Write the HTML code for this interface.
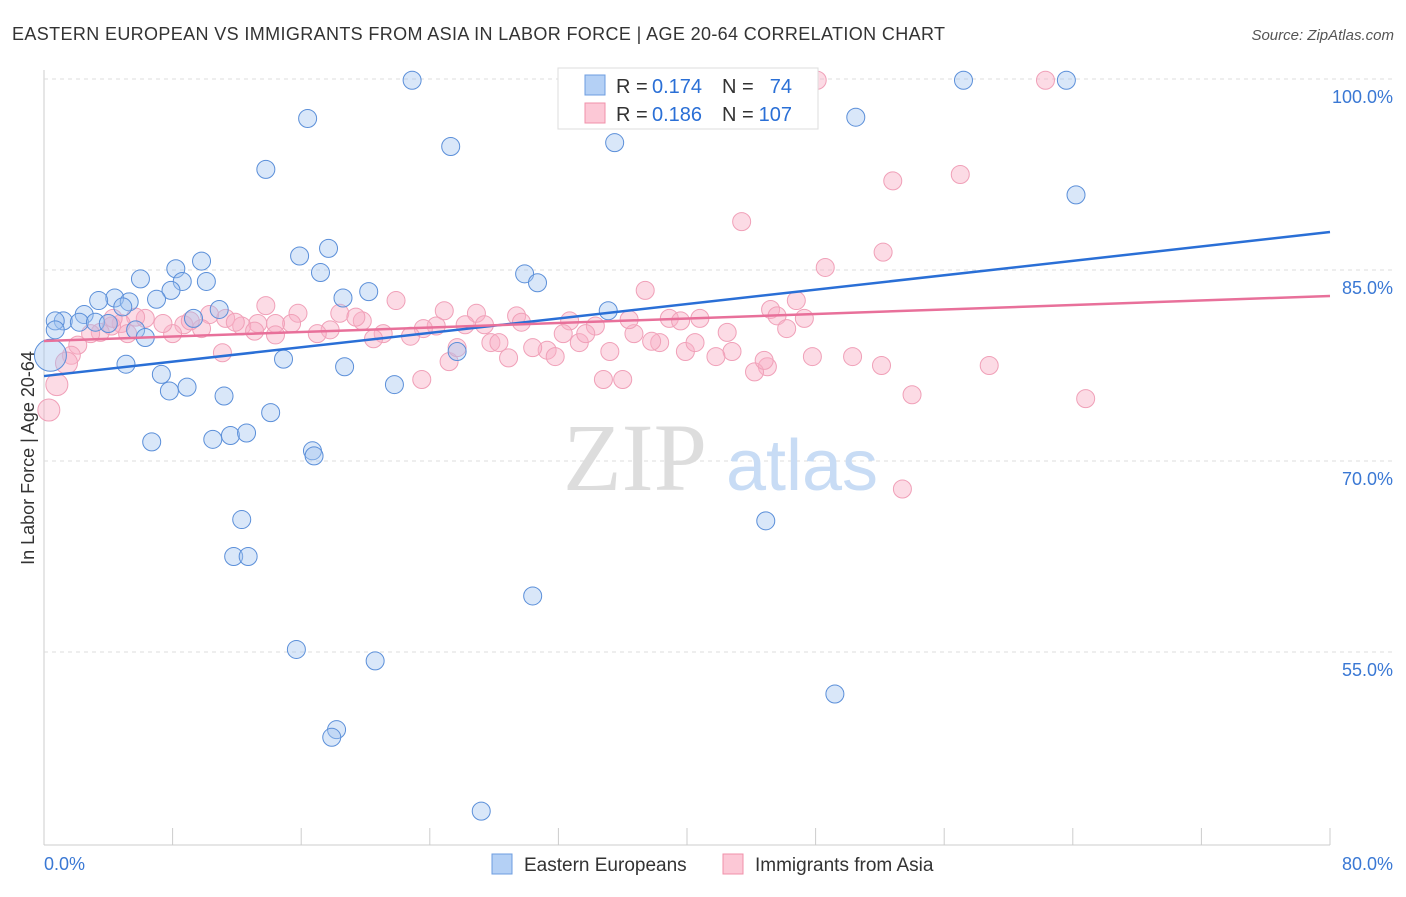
<!DOCTYPE html>
<html><head><meta charset="utf-8"><style>
body{margin:0;background:#fff;font-family:"Liberation Sans",sans-serif}
</style></head><body>
<svg id="c" width="1406" height="892" xmlns="http://www.w3.org/2000/svg" font-family="Liberation Sans, sans-serif">
<text x="12" y="40" font-size="18" fill="#333" textLength="933" lengthAdjust="spacing">EASTERN EUROPEAN VS IMMIGRANTS FROM ASIA IN LABOR FORCE | AGE 20-64 CORRELATION CHART</text>
<text x="1394" y="40" font-size="15" fill="#555" text-anchor="end" font-style="italic">Source: ZipAtlas.com</text>
<text transform="translate(34,458) rotate(-90)" font-size="18" fill="#333" text-anchor="middle">In Labor Force | Age 20-64</text>
<g id="grid"></g>
<g>
<text x="635" y="490" font-size="96" fill="#ddd" font-family="Liberation Serif, serif" text-anchor="middle">ZIP</text>
<text x="802" y="490" font-size="72" fill="#c8dcf5" text-anchor="middle">atlas</text></g>
<g id="pts"></g>
<g id="lines"></g>
<g>
<rect x="558" y="68" width="260" height="61" fill="#fff" stroke="#ddd"/>
<rect x="585" y="75" width="20" height="20" fill="#b4d0f5" stroke="#6d9de0"/>
<rect x="585" y="103" width="20" height="20" fill="#fcc8d6" stroke="#f090aa"/>
<text x="616" y="93" font-size="20" fill="#333">R =</text>
<text x="652" y="93" font-size="20" fill="#2a6fd6">0.174</text>
<text x="722" y="93" font-size="20" fill="#333">N =</text>
<text x="792" y="93" font-size="20" fill="#2a6fd6" text-anchor="end">74</text>
<text x="616" y="121" font-size="20" fill="#333">R =</text>
<text x="652" y="121" font-size="20" fill="#2a6fd6">0.186</text>
<text x="722" y="121" font-size="20" fill="#333">N =</text>
<text x="792" y="121" font-size="20" fill="#2a6fd6" text-anchor="end">107</text>
</g>
<g>
<rect x="492" y="854" width="20" height="20" fill="#b4d0f5" stroke="#6d9de0"/>
<text x="524" y="871" font-size="19" fill="#333">Eastern Europeans</text>
<rect x="723" y="854" width="20" height="20" fill="#fcc8d6" stroke="#f090aa"/>
<text x="755" y="871" font-size="19" fill="#333">Immigrants from Asia</text>
</g>
</svg>
<script>
const yTicks=[100,85,70,55];
const yTickLabels=["100.0%","85.0%","70.0%","55.0%"];
const xTickLabels=["0.0%","80.0%"];
const blueX=[22.9,16.4,13.8,25.3,35.5,50.5,57.2,63.6,64.2,15.9,17.7,9.8,8.2,17.2,6.0,8.6,10.1,7.9,4.4,3.4,5.3,7.0,18.6,20.2,29.9,30.7,10.9,35.1,9.3,4.9,2.5,1.2,0.7,2.2,3.2,4.0,5.7,6.3,0.7,0.4,5.1,7.3,14.9,18.7,25.7,7.8,8.9,11.2,14.1,21.8,6.7,10.5,11.6,12.6,16.7,16.8,12.3,44.9,11.8,12.7,30.4,15.7,20.6,49.2,18.2,17.9,27.2];
const blueY=[99.9,96.9,92.9,94.7,95.0,97.0,99.9,99.9,90.9,86.1,86.7,85.7,85.1,84.8,84.3,84.1,84.1,83.4,82.8,82.6,82.5,82.7,82.8,83.3,84.7,84.0,81.9,81.8,81.2,82.1,81.5,81.0,81.0,80.9,80.9,80.8,80.3,79.7,80.3,78.3,77.6,76.8,78.0,77.4,78.6,75.5,75.8,75.1,73.8,76.0,71.5,71.7,72.0,72.2,70.8,70.4,65.4,65.3,62.5,62.5,59.4,55.2,54.3,51.7,48.9,48.3,42.5];
const pinkX=[48.1,62.3,52.8,57.0,43.4,52.2,48.6,37.4,64.8,53.4,54.0,58.8,52.1,50.3,47.8,45.0,44.2,44.8,42.8,41.8,39.9,40.5,38.3,37.8,36.7,35.2,33.3,31.3,30.4,31.8,28.9,27.8,28.3,25.2,25.7,23.5,34.8,36.0,13.8,15.8,18.4,21.9,24.9,26.9,29.4,32.7,34.3,36.4,38.9,40.8,45.2,46.8,47.3,45.6,46.2,42.5,39.6,33.7,32.3,29.7,27.4,26.2,24.4,23.6,22.8,21.1,20.5,19.8,19.4,17.8,17.0,15.4,14.4,13.3,12.3,11.3,10.3,9.8,8.7,8.0,7.4,6.3,5.7,4.8,4.2,3.5,2.9,2.1,1.7,1.4,0.8,0.3,11.1,14.4,11.9,13.1,9.1,5.2,4.3];
const pinkY=[99.9,99.9,92.0,92.5,88.8,86.4,85.2,83.4,74.9,67.8,75.2,77.5,77.5,78.2,78.2,77.4,77.0,77.9,78.6,78.2,78.6,79.3,79.3,79.4,80.0,78.6,79.3,78.7,78.9,78.2,78.1,79.3,79.3,77.8,78.9,76.4,76.4,76.4,82.2,81.6,81.6,82.6,81.8,81.6,81.4,81.0,80.6,81.1,81.2,81.2,81.9,82.6,81.2,81.4,80.4,80.1,81.0,80.0,80.0,80.9,80.7,80.7,80.6,80.4,79.8,80.0,79.6,81.0,81.3,80.3,80.0,80.8,80.8,80.8,80.6,81.2,81.5,80.4,80.7,80.0,80.8,81.2,81.3,80.8,80.6,80.1,80.0,79.1,78.3,77.7,76.0,74.0,78.5,79.9,80.9,80.2,81.0,80.0,81.2];
const blueTrend=[76.67,87.98];
const pinkTrend=[79.42,82.96];
const NS="http://www.w3.org/2000/svg";
const X=v=>44+v/80*1286, Y=v=>79+(100-v)*12.733;
function mk(t,a,p){const e=document.createElementNS(NS,t);for(const k in a)e.setAttribute(k,a[k]);p.appendChild(e);return e;}
const grid=document.getElementById('grid');
mk('line',{x1:44,y1:70,x2:44,y2:845,stroke:'#ccc'},grid);
mk('line',{x1:44,y1:845,x2:1330,y2:845,stroke:'#ccc'},grid);
yTicks.forEach((t,i)=>{const l=mk('line',{x1:44,y1:Y(t),x2:1395,y2:Y(t),stroke:'#ddd','stroke-dasharray':'4,4'},grid);


const tx=mk('text',{x:1393,y:Y(t)+24,'font-size':18,fill:'#3a78d4','text-anchor':'end'},grid);tx.textContent=yTickLabels[i];

});
for(let i=0;i<=10;i++){const l=mk('line',{x1:X(i*8),y1:828,x2:X(i*8),y2:845,stroke:'#ccc'},grid);

}
[[0,44,'start'],[1,1393,'end']].forEach(([i,x,a])=>{const t=mk('text',{x:x,y:870,'font-size':18,fill:'#3a78d4','text-anchor':a},grid);t.textContent=xTickLabels[i];

});
const pts=document.getElementById('pts');
pinkX.forEach((v,i)=>{const c=mk('circle',{cx:X(v),cy:Y(pinkY[i]),r:(i>=89&&i<=91)?11:9,fill:'rgba(248,175,198,0.45)',stroke:'#f0a0b8','stroke-width':1},pts);

});
blueX.forEach((v,i)=>{const c=mk('circle',{cx:X(v),cy:Y(blueY[i]),r:i==39?16:9,fill:'rgba(160,196,240,0.4)',stroke:'#5b8fd9','stroke-width':1},pts);

});
const ln=document.getElementById('lines');
const b=mk('line',{x1:X(0),y1:Y(blueTrend[0]),x2:X(80),y2:Y(blueTrend[1]),stroke:'#2a6fd6','stroke-width':2.5},ln);


const p=mk('line',{x1:X(0),y1:Y(pinkTrend[0]),x2:X(80),y2:Y(pinkTrend[1]),stroke:'#e8709a','stroke-width':2.5},ln);


</script>
</body></html>
